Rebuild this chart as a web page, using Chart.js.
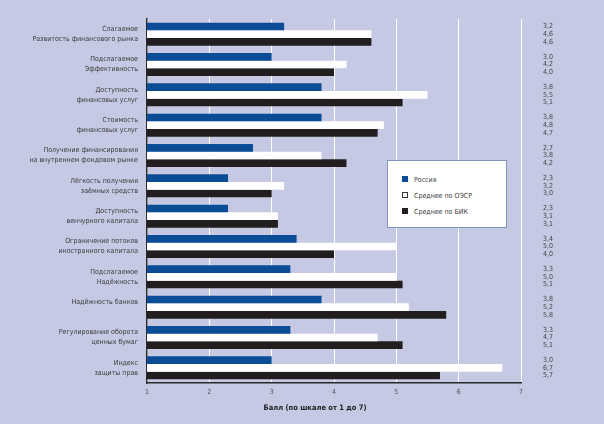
<!DOCTYPE html>
<html>
<head>
<meta charset="utf-8">
<script src="https://cdn.jsdelivr.net/npm/chart.js@4/dist/chart.umd.min.js"></script>
<style>
    html, body { margin: 0; padding: 0; background: #c5c9e3; }
    #wrap { position: relative; width: 604px; height: 424px; }
    #legend {
        position: absolute; left: 387px; top: 160px; width: 118px; height: 66px;
        background: #fff; border: 1px solid #7f93bb;
        font: 7px "Liberation Sans Narrow", "DejaVu Sans Condensed", sans-serif; color: #3a3a3a;
    }
    .item { position: absolute; left: 14px; height: 10px; line-height: 10px; }
    .item i { display: inline-block; width: 6px; height: 6px; margin-right: 6px; vertical-align: -0px; box-sizing: border-box; }
</style>
</head>
<body>
<div id="wrap">
    <canvas id="ratings" width="604" height="424"></canvas>
    <div id="legend"></div>
</div>
<script>
const categories = [
    ['Слагаемое', 'Развитость финансового рынка'],
    ['Подслагаемое', 'Эффективность'],
    ['Доступность', 'финансовых услуг'],
    ['Стоимость', 'финансовых услуг'],
    ['Получение финансирования', 'на внутреннем фондовом рынке'],
    ['Лёгкость получения', 'заёмных средств'],
    ['Доступность', 'венчурного капитала'],
    ['Ограничение потоков', 'иностранного капитала'],
    ['Подслагаемое', 'Надёжность'],
    ['Надёжность банков', ''],
    ['Регулирование оборота', 'ценных бумаг'],
    ['Индекс', 'защиты прав']
];
const russia = [3.2, 3.0, 3.8, 3.8, 2.7, 2.3, 2.3, 3.4, 3.3, 3.8, 3.3, 3.0];
const oecd = [4.6, 4.2, 5.5, 4.8, 3.8, 3.2, 3.1, 5.0, 5.0, 5.2, 4.7, 6.7];
const bric = [4.6, 4.0, 5.1, 4.7, 4.2, 3.0, 3.1, 4.0, 5.1, 5.8, 5.1, 5.7];
const seriesNames = ['Россия', 'Среднее по ОЭСР', 'Среднее по БИК'];
const xTicks = [1, 2, 3, 4, 5, 6, 7];
const axisTitle = 'Балл (по шкале от 1 до 7)';

const FONT = '"Liberation Sans Narrow", "DejaVu Sans Condensed", sans-serif';
const colors = ['#0b4c97', '#ffffff', '#221e1f'];

// legend (html)
const legend = document.getElementById('legend');
seriesNames.forEach(function (name, i) {
    const d = document.createElement('div');
    d.className = 'item';
    d.style.top = (14 + i * 16) + 'px';
    const sw = document.createElement('i');
    sw.style.background = colors[i];
    if (i == 1) sw.style.border = '1px solid #333';
    d.appendChild(sw);
    d.appendChild(document.createTextNode(name));
    legend.appendChild(d);
});

// value column on the right + axis title
const valueLabels = {
    id: 'valueLabels',
    afterDatasetsDraw(chart) {
        const ctx = chart.ctx;
        ctx.save();
        ctx.font = '7px ' + FONT;
        ctx.fillStyle = '#444';
        ctx.textAlign = 'left';
        ctx.textBaseline = 'middle';
        chart.data.datasets.forEach(function (ds, i) {
            chart.getDatasetMeta(i).data.forEach(function (bar, j) {
                ctx.fillText(ds.data[j].toFixed(1).replace('.', ','), 543, bar.y);
            });
        });
        const area = chart.chartArea;
        ctx.font = 'bold 7.5px ' + FONT;
        ctx.fillStyle = '#222';
        ctx.textAlign = 'center';
        ctx.fillText(axisTitle, (area.left + area.right) / 2 - 19, 408);
        ctx.restore();
    }
};

const ctx = document.getElementById('ratings').getContext('2d');
const ratingsChart = new Chart(ctx, {
    type: 'bar',
    data: {
        labels: categories,
        datasets: [russia, oecd, bric].map(function (d, i) {
            return {
                label: seriesNames[i],
                data: d,
                backgroundColor: colors[i],
                borderWidth: 0,
                categoryPercentage: 0.76,
                barPercentage: 1.0
            };
        })
    },
    options: {
        indexAxis: 'y',
        responsive: false,
        animation: false,
        layout: { padding: { top: 16, right: 83, left: 0, bottom: 0 } },
        plugins: {
            legend: { display: false },
            tooltip: { enabled: false }
        },
        scales: {
            x: {
                min: 1,
                max: 7,
                afterBuildTicks: function (scale) {
                    scale.ticks = xTicks.map(function (v) { return { value: v }; });
                },
                afterFit: function (scale) { scale.height = 41; },
                grid: { color: '#ffffff', lineWidth: 1, drawTicks: false },
                border: { display: true, color: '#2a2a2a', width: 1.5 },
                ticks: {
                    padding: 5,
                    color: '#555',
                    font: { family: FONT, size: 7 }
                }
            },
            y: {
                afterFit: function (scale) { scale.width = 147; },
                grid: { display: false, drawTicks: false },
                border: { display: true, color: '#2a2a2a', width: 1.5 },
                ticks: {
                    padding: 9,
                    color: '#3a3a3a',
                    font: { family: FONT, size: 7, lineHeight: 1.43 }
                }
            }
        }
    },
    plugins: [valueLabels]
});
</script>
</body>
</html>
